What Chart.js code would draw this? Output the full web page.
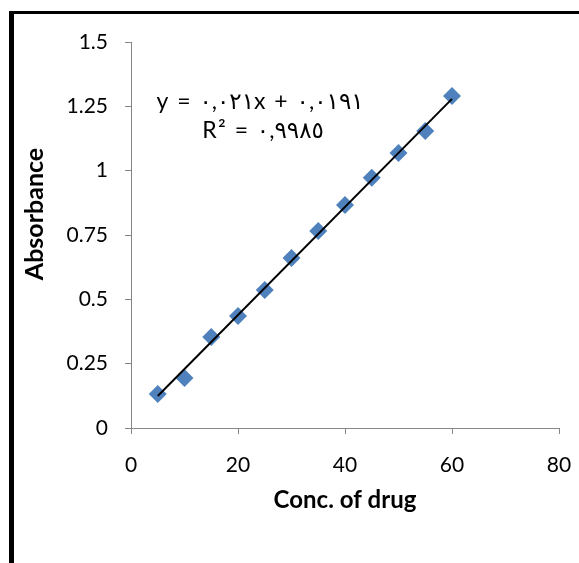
<!DOCTYPE html>
<html>
<head>
<meta charset="utf-8">
<script src="https://cdn.jsdelivr.net/npm/chart.js@4/dist/chart.umd.min.js"></script>
<style>
    body { margin: 0; background: #fff; }
    #frame {
        position: absolute; left: 9px; top: 11px; width: 600px; height: 600px;
        border-left: 5px solid #000; border-top: 3px solid #000;
    }
    #wrap { position: absolute; left: 0; top: 0; width: 579px; height: 563px; }
</style>
</head>
<body>
<div id="frame"></div>
<div id="wrap"><canvas id="calChart" width="579" height="563"></canvas></div>
<script>
// concentration of drug vs absorbance
const concentrations = [5, 10, 15, 20, 25, 30, 35, 40, 45, 50, 55, 60];
const absorbances = [0.132, 0.194, 0.354, 0.435, 0.536, 0.661, 0.766, 0.867, 0.972, 1.069, 1.154, 1.290];
const xTicks = [0, 20, 40, 60, 80];
const yTicks = [0, 0.25, 0.5, 0.75, 1, 1.25, 1.5];
const yTickLabels = ['0', '0.25', '0.5', '0.75', '1', '1.25', '1.5'];

// linear trendline as printed on the chart
const trendSlope = 0.021;
const trendIntercept = 0.0191;
const equationLines = ['y = ٠,٠٢١x + ٠,٠١٩١', 'R² = ٠,٩٩٨٥'];

const points = concentrations.map((c, i) => ({ x: c, y: absorbances[i] }));
const xFirst = concentrations[0];
const xLast = concentrations[concentrations.length - 1];
const trendPoints = [
    { x: xFirst, y: trendSlope * xFirst + trendIntercept },
    { x: xLast, y: trendSlope * xLast + trendIntercept }
];

const labelFont = "Lato, 'Open Sans', sans-serif";

const overlayText = {
    id: 'overlayText',
    afterDraw(chart) {
        const ctx = chart.ctx;
        ctx.save();
        ctx.fillStyle = '#000';
        ctx.textAlign = 'center';
        ctx.textBaseline = 'middle';

        // equation + R squared
        ctx.font = "23px Lato, 'DejaVu Sans', sans-serif";
        ctx.letterSpacing = '1.5px';
        ctx.fillText(equationLines[0], 260, 102);
        ctx.fillText(equationLines[1], 263, 131);
        ctx.letterSpacing = '0px';

        // y axis title
        ctx.font = 'bold 25px ' + labelFont;
        ctx.translate(35, 214);
        ctx.rotate(-Math.PI / 2);
        ctx.fillText('Absorbance', 0, 0);
        ctx.restore();
    }
};

const ctx = document.getElementById('calChart').getContext('2d');
new Chart(ctx, {
    type: 'scatter',
    data: {
        datasets: [
            {
                label: 'Absorbance',
                data: points,
                pointStyle: 'rectRot',
                pointRadius: 9,
                pointHoverRadius: 9,
                pointBackgroundColor: '#4F81BD',
                pointBorderWidth: 0,
                order: 2
            },
            {
                label: 'Linear',
                type: 'line',
                data: trendPoints,
                borderColor: '#000',
                borderWidth: 2,
                pointRadius: 0,
                fill: false,
                order: 1
            }
        ]
    },
    options: {
        responsive: false,
        animation: false,
        layout: { padding: { left: 14, top: 42, right: 20, bottom: 44 } },
        plugins: {
            legend: { display: false },
            tooltip: { enabled: false }
        },
        scales: {
            x: {
                type: 'linear',
                min: 0,
                max: 80,
                afterBuildTicks: (axis) => { axis.ticks = xTicks.map(v => ({ value: v })); },
                afterFit: (axis) => {
                    axis.height = 91;
                    axis.paddingLeft = 0;
                    axis.paddingRight = 10;
                },
                grid: {
                    drawOnChartArea: false,
                    drawTicks: true,
                    tickLength: 6,
                    color: '#868686'
                },
                border: { color: '#868686', width: 1 },
                ticks: {
                    color: '#000',
                    padding: 19,
                    maxRotation: 0,
                    callback: (v) => String(v),
                    font: { family: labelFont, size: 21 }
                },
                title: {
                    display: true,
                    text: 'Conc. of drug',
                    color: '#000',
                    font: { family: labelFont, size: 24, weight: 'bold' }
                }
            },
            y: {
                type: 'linear',
                min: 0,
                max: 1.5,
                afterBuildTicks: (axis) => { axis.ticks = yTicks.map(v => ({ value: v })); },
                afterFit: (axis) => { axis.width = 117; },
                grid: {
                    drawOnChartArea: false,
                    drawTicks: true,
                    tickLength: 6,
                    color: '#868686'
                },
                border: { color: '#868686', width: 1 },
                ticks: {
                    color: '#000',
                    padding: 17,
                    callback: (v) => yTickLabels[yTicks.indexOf(v)],
                    font: { family: labelFont, size: 21 }
                }
            }
        }
    },
    plugins: [overlayText]
});
</script>
</body>
</html>
